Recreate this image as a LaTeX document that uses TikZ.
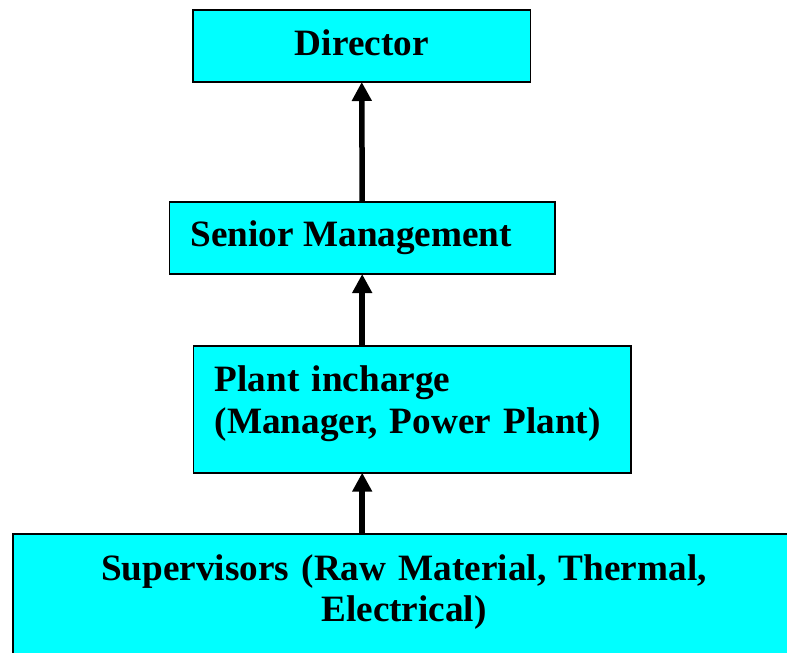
\documentclass[tikz,border=0pt]{standalone}
\usepackage{fontspec}
\setmainfont{Liberation Serif}
\usetikzlibrary{arrows.meta,calc}
\definecolor{boxcyan}{RGB}{0,255,255}
\begin{document}
\begin{tikzpicture}[x=1pt,y=-1pt,
  orgbox/.style={draw=black,line width=1.6pt,fill=boxcyan,inner sep=0pt,outer sep=0pt},
  lbl/.style={inner sep=0pt,font=\fontsize{37.2pt}{41.4pt}\selectfont\bfseries},
  uparrow/.style={line width=5.5pt,-{Triangle[width=19pt,length=19pt]}}]
\useasboundingbox (0,0) rectangle (787,653);
\clip (0,0) rectangle (787,653);
% boxes
\node[orgbox,minimum width=337.7pt,minimum height=72pt] (dir) at (361.75,46) {};
\node[orgbox,minimum width=385.7pt,minimum height=72.3pt] (sen) at (362.2,237.9) {};
\node[orgbox,minimum width=437.4pt,minimum height=127pt] (pla) at (412,409.2) {};
\node[orgbox,minimum width=782.3pt,minimum height=146pt] (sup) at (403.9,607) {};
% labels
\node[lbl,anchor=base] (tdir) at (361.75,55) {Director};
\node[lbl,anchor=base west] (tsen) at (190.5,246.7) {Senior Management};
\node[lbl,anchor=base west,text width=410pt,align=left] (tpla) at (214.5,391.7)
  {Plant incharge\\(Manager, Power Plant)};
\node[lbl,anchor=base,text width=740pt,align=center] (tsup) at (404,580)
  {Supervisors (Raw Material, Thermal,\\Electrical)};
% connectors
\draw[uparrow] (sen.north) -- (dir.south);
\draw[uparrow] (sen.south |- pla.north) -- (sen.south);
\draw[uparrow] (sen.south |- sup.north) -- (sen.south |- pla.south);
\end{tikzpicture}
\end{document}
